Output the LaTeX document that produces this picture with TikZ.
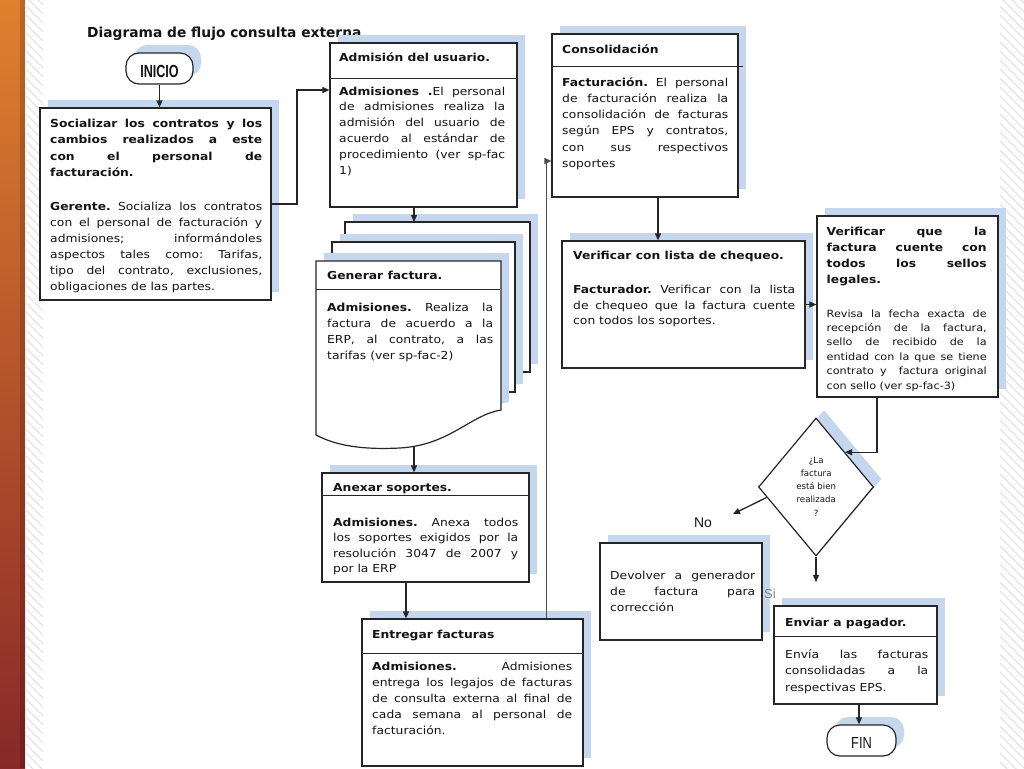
\documentclass[tikz,border=0pt]{standalone}
\usepackage{fontspec}
\newfontfamily\vfont[FakeStretch=1.12]{DejaVu Sans}
\newfontfamily\tfont{DejaVu Sans}
\newfontfamily\afont{Liberation Sans}
\newfontfamily\nbfont[FakeStretch=0.72]{Liberation Sans}
\newfontfamily\nrfont[FakeStretch=0.8]{Liberation Sans}
\usetikzlibrary{shapes.geometric,arrows.meta,shadows,calc}
\definecolor{shblue}{RGB}{197,214,239}
\definecolor{txt}{RGB}{20,20,20}
\definecolor{orA}{RGB}{224,128,46}
\definecolor{orB}{RGB}{232,108,26}
\definecolor{orC}{RGB}{136,40,40}
\newcommand\J[1]{\hbox to\hsize{#1}}
\newcommand\Lf[1]{\hbox to\hsize{#1\hfil}}
\newcommand\C[1]{\hbox to\hsize{\hfil#1\hfil}}
\newcommand\tx[6]{\node[anchor=base west,inner sep=0pt,text=txt] at (#1,#2) {\vtop{\hsize=#3pt\vfont\fontsize{#4}{#5}\selectfont\frenchspacing\lineskiplimit=-100pt\relax #6}};}
\tikzset{
  shad/.style={general shadow={fill=shblue, shadow xshift=8pt, shadow yshift=8pt}},
  box/.style={draw=black!85, line width=1.2pt, fill=white, inner sep=0pt, shad},
  sheet/.style={draw=black!85, line width=1.2pt, fill=white},
  arr/.style={draw=black!85, line width=1.3pt, -{Triangle[length=7pt,width=6pt]}},
  thinarr/.style={draw=black!70, line width=1pt, -{Triangle[length=7pt,width=6pt]}},
  divl/.style={draw=black!85, line width=1pt},
  hatch/.style={draw=black!10, line width=1.2pt}
}
\begin{document}
\begin{tikzpicture}[x=1pt,y=-1pt]
\useasboundingbox (0,0) rectangle (1024,768);
\fill[white] (0,0) rectangle (1024,768);
% left orange bar
\shade[top color=orA, middle color=orB, bottom color=orC] (0,0) rectangle (25,768);
\fill[black, opacity=0.18] (20,0) rectangle (25,768);
\begin{scope}
\clip (26,0) rectangle (43,768);
\foreach \i in {-30,-21,...,780} \draw[hatch] (26,\i) -- (43,\i+17);
\end{scope}
\begin{scope}
\clip (1000,0) rectangle (1024,768);
\foreach \i in {-30,-21,...,780} \draw[hatch] (1000,\i) -- (1024,\i+24);
\end{scope}
% title
\node[anchor=base west, inner sep=0pt, text=txt, font=\tfont\bfseries\fontsize{13.8}{16}\selectfont] (title) at (87,37.5) {Diagrama de flujo consulta externa};
% INICIO
\node[box, rounded corners=13pt, minimum width=67pt, minimum height=31pt] (inicio) at (159.5,68.5) {};
\node[anchor=base, inner sep=0pt, text=txt, font=\nbfont\bfseries\fontsize{17.5}{18}\selectfont] (tinicio) at (159.5,77.3) {INICIO};
% Box 1
\node[box, minimum width=231pt, minimum height=192pt] (soc) at (155.5,204) {};
\tx{50}{127.5}{212}{11}{16.3}{\J{\textbf{Socializar los contratos y los}}\J{\textbf{cambios realizados a este}}\J{\textbf{con el personal de}}\Lf{\textbf{facturación.}}}
\tx{50}{210}{212}{11}{16}{\J{\textbf{Gerente.} Socializa los contratos}\J{con el personal de facturación y}\J{admisiones; informándoles}\J{aspectos tales como: Tarifas,}\J{tipo del contrato, exclusiones,}\Lf{obligaciones de las partes.}}
% Admision
\node[box, minimum width=187pt, minimum height=164pt] (adm) at (423.5,125) {};
\draw[divl] (330,78) -- (517,78);
\tx{339}{62}{170}{11}{16}{\Lf{\textbf{Admisión del usuario.}}}
\tx{339}{95}{166}{11}{15.85}{\J{\textbf{Admisiones .}El personal}\J{de admisiones realiza la}\J{admisión del usuario de}\J{acuerdo al estándar de}\J{procedimiento (ver sp-fac}\Lf{1)}}
% multi document
\fill[shblue] (353,214) rectangle (538,364);
\draw[sheet] (345,222) rectangle (530,372);
\fill[shblue] (340,234) rectangle (523,384);
\draw[sheet] (332,242) rectangle (515,392);
\begin{scope}[shift={(8,-8)}]
\fill[shblue] (316,261) -- (501,261) -- (501,410) .. controls (470,415) and (450,445) .. (400,448) .. controls (360,450) and (335,445) .. (316,435) -- cycle;
\end{scope}
\draw[sheet] (316,261) -- (501,261) -- (501,410) .. controls (470,415) and (450,445) .. (400,448) .. controls (360,450) and (335,445) .. (316,435) -- cycle;
\draw[divl] (316,289) -- (500,289);
\coordinate (docb) at (414,447);
\tx{327}{279}{170}{11}{16}{\Lf{\textbf{Generar factura.}}}
\tx{327}{311.7}{166}{11}{15.9}{\J{\textbf{Admisiones.} Realiza la}\J{factura de acuerdo a la}\J{ERP, al contrato, a las}\Lf{tarifas (ver sp-fac-2)}}
% Anexar
\node[box, minimum width=207pt, minimum height=109pt] (anx) at (425.5,527.5) {};
\draw[divl] (322,495) -- (529,495);
\tx{333}{491}{190}{11}{16}{\Lf{\textbf{Anexar soportes.}}}
\tx{333}{526}{185}{11}{15.5}{\J{\textbf{Admisiones.} Anexa todos}\J{los soportes exigidos por la}\J{resolución 3047 de 2007 y}\Lf{por la ERP}}
% Entregar
\node[box, minimum width=221pt, minimum height=147pt] (ent) at (472.5,692.5) {};
\draw[divl] (362,653) -- (583,653);
\tx{372}{638.5}{200}{11}{16}{\Lf{\textbf{Entregar facturas}}}
\tx{372}{670}{200}{11}{16.2}{\J{\textbf{Admisiones.} Admisiones}\J{entrega los legajos de facturas}\J{de consulta externa al final de}\J{cada semana al personal de}\Lf{facturación.}}
% Consolidacion
\node[box, minimum width=186pt, minimum height=163pt] (con) at (645,115.5) {};
\draw[divl] (552,66) -- (743,66);
\tx{562}{53}{170}{11}{16}{\Lf{\textbf{Consolidación}}}
\tx{562}{86}{166}{11}{16.3}{\J{\textbf{Facturación.} El personal}\J{de facturación realiza la}\J{consolidación de facturas}\J{según EPS y contratos,}\J{con sus respectivos}\Lf{soportes}}
% Verificar lista
\node[box, minimum width=243pt, minimum height=127pt] (vl) at (683.5,304.5) {};
\tx{573}{259}{225}{11}{16}{\Lf{\textbf{Verificar con lista de chequeo.}}}
\tx{573}{293.5}{222}{11}{15.5}{\J{\textbf{Facturador.} Verificar con la lista}\J{de chequeo que la factura cuente}\Lf{con todos los soportes.}}
% Verificar sellos
\node[box, minimum width=181pt, minimum height=181pt] (sel) at (907.5,306.5) {};
\tx{826.5}{235}{160}{11}{16.3}{\J{\textbf{Verificar que la}}\J{\textbf{factura cuente con}}\J{\textbf{todos los sellos}}\Lf{\textbf{legales.}}}
\tx{826.5}{317}{160}{10}{14.4}{\J{Revisa la fecha exacta de}\J{recepción de la factura,}\J{sello de recibido de la}\J{entidad con la que se tiene}\J{contrato y\ \ factura original}\Lf{con sello (ver sp-fac-3)}}
% Diamond
\node[box, diamond, minimum width=115pt, minimum height=138pt] (dia) at (816,487) {};
\node[anchor=base west, inner sep=0pt, text=txt] (tdia) at (786,463) {\vtop{\hsize=60pt\tfont\fontsize{8.6}{13.3}\selectfont\lineskiplimit=-100pt\relax\C{¿La}\C{factura}\C{está bien}\C{realizada}\C{?}}};
% Devolver
\node[box, minimum width=162pt, minimum height=97pt] (dev) at (681,591.5) {};
\tx{610}{579}{145}{11}{16}{\J{Devolver a generador}\J{de factura para}\Lf{corrección}}
% Enviar
\node[box, minimum width=163pt, minimum height=98pt] (env) at (855.5,655) {};
\draw[divl] (774,636) -- (937,636);
\tx{785}{626}{150}{11}{16}{\Lf{\textbf{Enviar a pagador.}}}
\tx{785}{658}{143}{11}{16.7}{\J{Envía las facturas}\J{consolidadas a la}\Lf{respectivas EPS.}}
% FIN
\node[box, rounded corners=13pt, minimum width=69pt, minimum height=31pt] (fin) at (861.5,740.5) {};
\node[anchor=base, inner sep=0pt, text=txt, font=\nrfont\fontsize{16}{18}\selectfont] (tfin) at (861.5,748.3) {FIN};
% labels
\node[anchor=base, inner sep=0pt, text=txt, font=\afont\fontsize{14}{16}\selectfont] (lno) at (703,527) {No};
\node[anchor=base west, inner sep=0pt, text=black!50, font=\afont\fontsize{13}{16}\selectfont] (lsi) at (764,598) {Si};
% connectors
\coordinate (k1) at (297,90);
\coordinate (k2) at (546,161);
\coordinate (noend) at (733,514);
\coordinate (siend) at (816,582);
\draw[arr] (inicio.south) -- (inicio.south |- soc.north);
\draw[arr] (soc.east) -| (k1) -- (k1 -| adm.west);
\draw[arr] (414,0 |- adm.south) -- (414,222);
\draw[arr] (docb) -- (docb |- anx.north);
\draw[arr] (406,0 |- anx.south) -- (406,0 |- ent.north);
\draw[thinarr] (k2 |- ent.north) -- (k2) -- (k2 -| con.west);
\draw[arr] (658,0 |- con.south) -- (658,0 |- vl.north);
\draw[arr] (vl.east) -- (vl.east -| sel.west);
\draw[arr] (877,0 |- sel.south) |- (dia.north east);
\draw[arr] ($(dia.west)!0.15!(dia.south)$) -- (noend);
\draw[arr] (dia.south) -- (siend);
\draw[arr] (859,0 |- env.south) -- (859,0 |- fin.north);
\end{tikzpicture}
\end{document}
